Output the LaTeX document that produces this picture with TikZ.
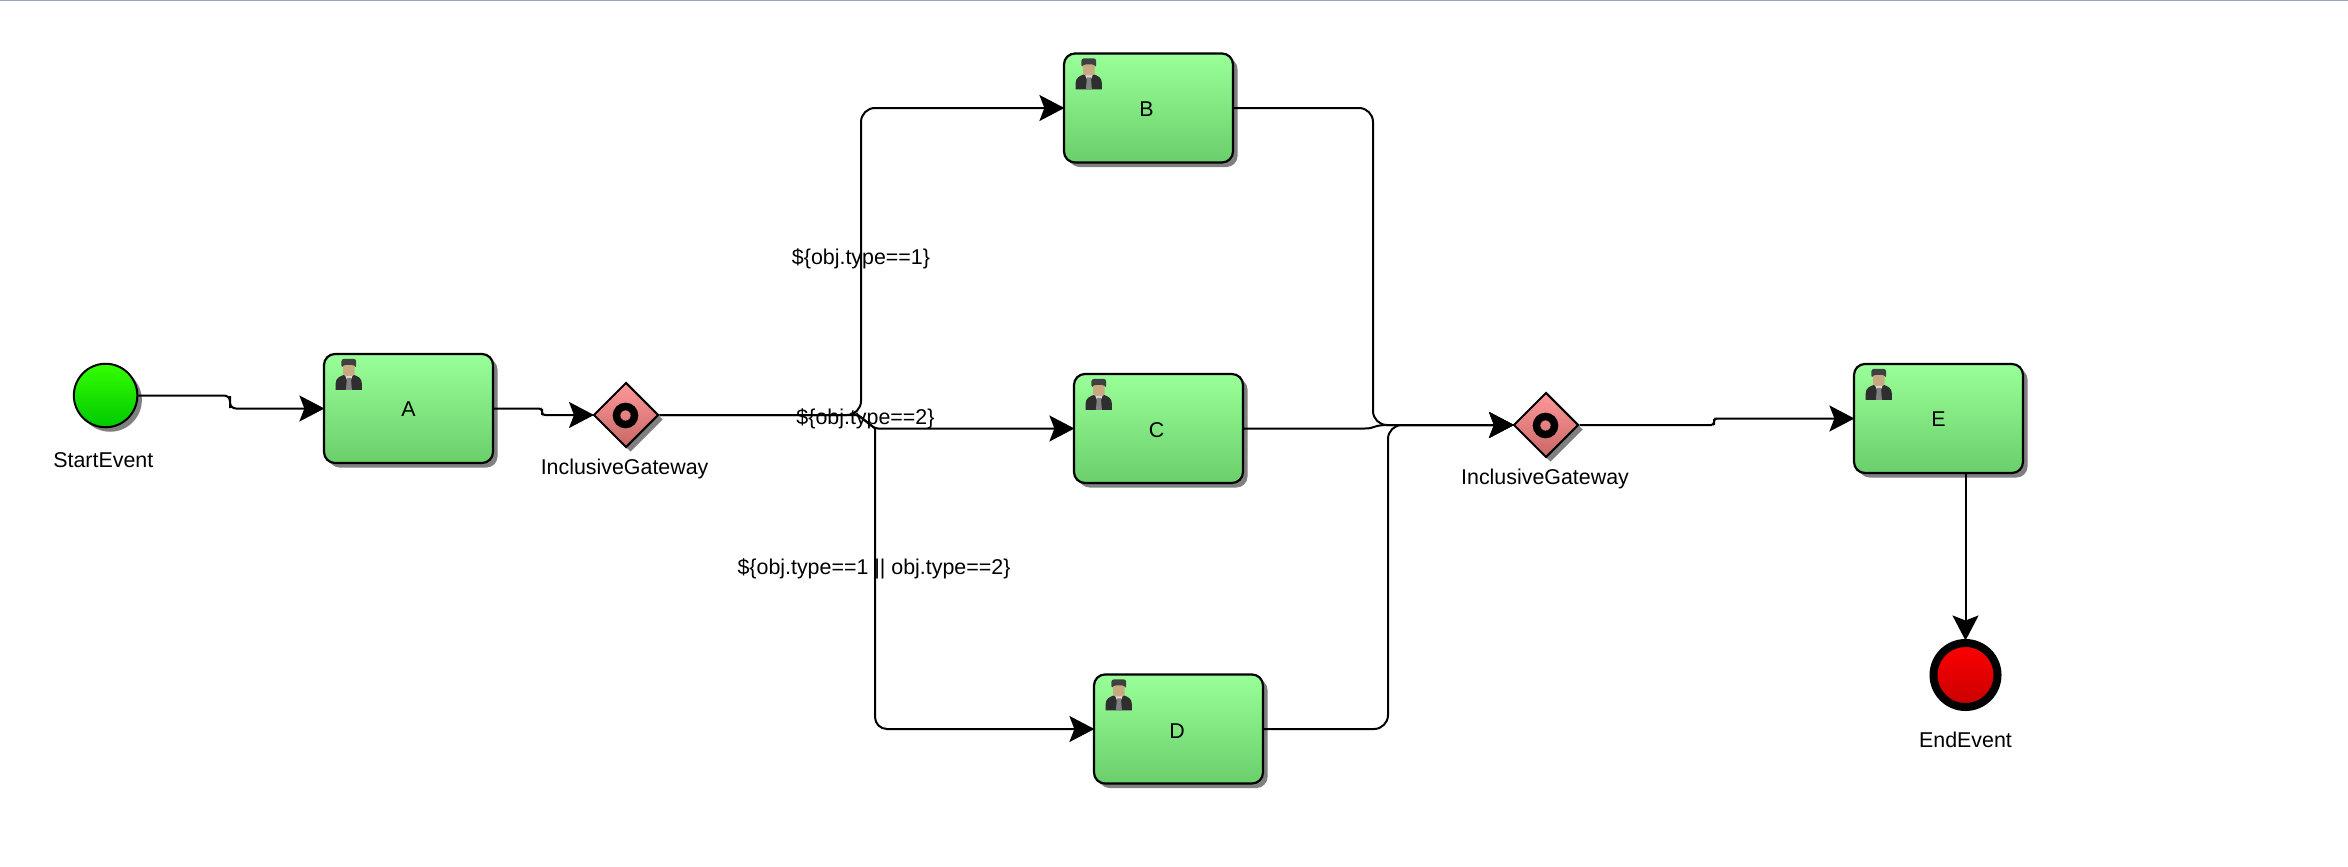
\documentclass[tikz,border=0pt]{standalone}
\usepackage{fontspec}
\setmainfont{Liberation Sans}
\usetikzlibrary{arrows.meta,shapes.geometric,shadows,calc}
\definecolor{shadowgrey}{HTML}{808080}
\tikzset{
  x=1pt,y=-1pt,
  lbl/.style={font=\fontsize{21.4}{25}\selectfont,inner sep=0pt,text=black},
  casted/.style={general shadow={fill=shadowgrey,shadow xshift=#1,shadow yshift=-#1}},
  taskbox/.style={draw=black,line width=2.2pt,rectangle,rounded corners=11pt,minimum width=169pt,minimum height=109pt,
    inner sep=0pt,outer sep=auto,top color=taskTop,bottom color=taskBottom,casted=4.5pt},
  startev/.style={draw=black,line width=2pt,circle,minimum size=63.5pt,inner sep=0pt,outer sep=auto,
    top color=startTop,bottom color=startBottom,casted=4.5pt},
  endev/.style={draw=black,line width=8pt,circle,minimum size=64pt,inner sep=0pt,outer sep=auto,
    top color=endTop,bottom color=endBottom,casted=2pt},
  gate/.style={draw=black,line width=2pt,diamond,minimum width=65pt,minimum height=65pt,inner sep=0pt,outer sep=auto,
    top color=gateTop,bottom color=gateBottom,casted=4.5pt},
  ring/.style={draw=black,line width=7.5pt,circle,minimum size=18pt,inner sep=0pt},
  flow/.style={draw=black,line width=2pt,shorten >=-1.5pt,-{Stealth[length=25pt,width=26pt,inset=5pt]}},
  person/.pic={
    \fill[black!82] (12.7,37) -- (12.7,31) .. controls (12.7,25) and (17,23.5) .. (21,22) -- (31,22) .. controls (35,23.5) and (39,25) .. (39,31) -- (39,37) -- cycle;
    \fill[black!15] (22,22) -- (30,22) -- (28,27) -- (24,27) -- cycle;
    \fill[black!50] (24,25) -- (28,25) -- (29,37) -- (23,37) -- cycle;
    \fill[personSkin,rounded corners=2.5pt] (20.3,10) rectangle (31.7,23);
    \fill[black!75,rounded corners=2.5pt] (18.5,15) -- (18.5,6) -- (33.3,6) -- (33.3,15) -- (31.5,12) -- (20.5,12) -- cycle;
  }
}
\definecolor{taskTop}{HTML}{99FF99}
\definecolor{taskBottom}{HTML}{6ACF6A}
\definecolor{startTop}{HTML}{33FF00}
\definecolor{startBottom}{HTML}{00C800}
\definecolor{endTop}{HTML}{FF0000}
\definecolor{endBottom}{HTML}{C80000}
\definecolor{gateTop}{HTML}{FF9999}
\definecolor{gateBottom}{HTML}{C86666}
\definecolor{personSkin}{HTML}{C8AA82}
\definecolor{topline}{HTML}{99A4BC}
\begin{document}
\begin{tikzpicture}
\useasboundingbox (0,0) rectangle (2348,867);
\fill[white] (0,0) rectangle (2348,867);
\fill[topline] (0,0) rectangle (2348,1.5);

% nodes
\node[startev] (start) at (105.6,395.5) {};
\node[taskbox] (A) at (408.5,408.5) {};
\node[gate] (g1) at (626,415) {};
\node[ring] (g1r) at (625.5,415.5) {};
\node[taskbox] (B) at (1148.5,108) {};
\node[taskbox] (C) at (1158.5,428.5) {};
\node[taskbox] (D) at (1178.5,729) {};
\node[gate] (g2) at (1546,425) {};
\node[ring] (g2r) at (1545.5,425.5) {};
\node[taskbox] (E) at (1938.5,418.5) {};
\node[endev] (end) at (1965.5,675) {};

% icons
\pic at (A.north west) {person};
\pic at (B.north west) {person};
\pic at (C.north west) {person};
\pic at (D.north west) {person};
\pic at (E.north west) {person};

% junction points
\coordinate (s1) at (230,402);
\coordinate (s2) at (542,411.75);
\coordinate (s3) at (1714,421.75);
\coordinate (b1) at (861,108);
\coordinate (j1) at (858,415);
\coordinate (j2) at (875,428.5);
\coordinate (j3) at (1373,425);
\coordinate (j4) at (1388,425);
\coordinate (j5) at (1365,428.5);
\coordinate (d1) at (875,729);

% connectors
\draw[flow,rounded corners=6pt] (start.east) -| (s1) |- (A.west);
\draw[flow,rounded corners=3pt] (A.east) -| (s2) |- (g1.west);
\draw[flow,rounded corners=14pt] (g1.east) -| (b1) -- (B.west);
\draw[flow,rounded corners=3pt] (g1.east) -- (j1) -- (j2) -- (C.west);
\draw[flow,rounded corners=12pt] (j2) -- (d1) -- (D.west);
\draw[line width=2pt] (j1) -- (j2);
\draw[flow,rounded corners=14pt] (B.east) -| (j3) -- (g2.west);
\draw[flow] (C.east) -- (j5) .. controls ($(j5)+(10,0)$) and ($(j3)+(0,0)$) .. (j4) -- (g2.west);
\draw[flow,rounded corners=14pt] (D.east) -| (j4) -- (g2.west);
\draw[flow,rounded corners=3pt] (g2.east) -| (s3) |- (E.west);
\draw[flow] (end.north |- E.south) -- (end.north);

% labels
\node[lbl] (lA) at (408.5,409) {A};
\node[lbl] (lB) at (1146.5,109) {B};
\node[lbl] (lC) at (1156.5,430) {C};
\node[lbl] (lD) at (1177,731) {D};
\node[lbl] (lE) at (1938.5,419) {E};
\node[lbl] (lstart) at (103.3,460) {StartEvent};
\node[lbl] (lg1) at (624.6,468.5) {InclusiveGateway};
\node[lbl] (lg2) at (1545,478.5) {InclusiveGateway};
\node[lbl] (lend) at (1965.5,739.5) {EndEvent};
\node[lbl] (c1) at (861,258.5) {\$\{obj.type==1\}};
\node[lbl] (c2) at (865.5,418.5) {\$\{obj.type==2\}};
\node[lbl] (c3) at (874,568.5) {\$\{obj.type==1 || obj.type==2\}};
\end{tikzpicture}
\end{document}
